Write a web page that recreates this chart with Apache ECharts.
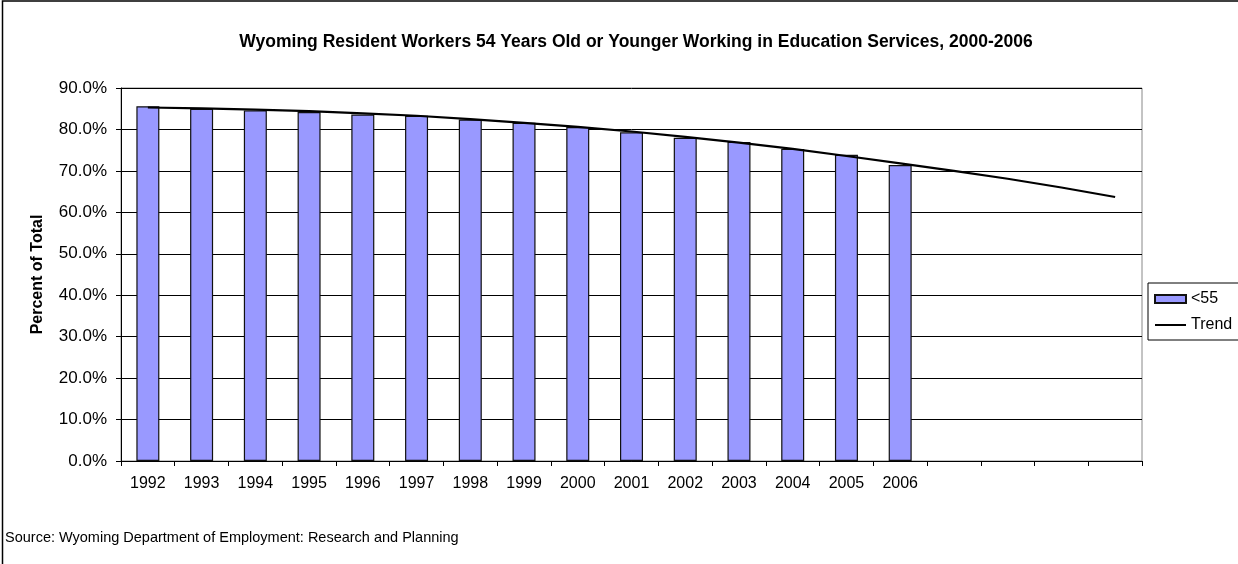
<!DOCTYPE html>
<html>
<head>
<meta charset="utf-8">
<script src="https://cdn.jsdelivr.net/npm/echarts@6/dist/echarts.min.js"></script>
<style>
html,body{margin:0;padding:0;background:#fff;}
#chart{width:1238px;height:564px;}
</style>
</head>
<body>
<div id="chart"></div>
<script>
var categories = ['1992','1993','1994','1995','1996','1997','1998','1999','2000','2001','2002','2003','2004','2005','2006','','','',''];
var under55 = [85.6, 85.0, 84.6, 84.2, 83.6, 83.3, 82.4, 81.6, 80.6, 79.3, 78.0, 77.0, 75.3, 73.9, 71.4, null, null, null, null];
var trend = [85.3, 85.1, 84.8, 84.4, 83.9, 83.3, 82.5, 81.6, 80.6, 79.5, 78.2, 76.8, 75.3, 73.6, 71.8, 70.0, 68.1, 66.0, 63.7];
var titleText = 'Wyoming Resident Workers 54 Years Old or Younger Working in Education Services, 2000-2006';
var sourceText = 'Source: Wyoming Department of Employment: Research and Planning';

var font = 'Liberation Sans, Arial, sans-serif';
var chart = echarts.init(document.getElementById('chart'));
chart.setOption({
  animation: false,
  backgroundColor: '#fff',
  textStyle: {fontFamily: font},
  title: {
    text: titleText,
    left: 631, top: 28, textAlign: 'center',
    textStyle: {fontFamily: font, fontSize: 17.5, fontWeight: 'bold', color: '#000'}
  },
  graphic: [
    {type: 'rect', shape: {x: 2.5, y: 1, width: 1400, height: 1000}, style: {fill: 'none', stroke: '#000', lineWidth: 1.5}, silent: true},
    {type: 'text', left: 5, top: 530, style: {text: sourceText, font: '14.5px ' + font, fill: '#000'}}
  ],
  legend: {
    orient: 'vertical',
    left: 1148, top: 283,
    padding: [8, 60, 7, 6],
    itemGap: 10,
    itemWidth: 31, itemHeight: 8,
    borderColor: '#000', borderWidth: 1,
    textStyle: {fontFamily: font, fontSize: 16, color: '#000'},
    data: [{name: '<55', icon: 'rect'}, {name: 'Trend', itemStyle: {opacity: 0}}]
  },
  grid: {left: 121, right: 96, top: 88, bottom: 103, show: true, borderColor: '#888', borderWidth: 1, containLabel: false},
  xAxis: {
    type: 'category',
    data: categories,
    boundaryGap: true,
    axisLine: {lineStyle: {color: '#000', width: 1}},
    axisTick: {show: true, length: 5, inside: false, lineStyle: {color: '#000'}},
    axisLabel: {fontFamily: font, fontSize: 16, color: '#000', margin: 15, interval: 0},
    splitLine: {show: false}
  },
  yAxis: {
    type: 'value',
    min: 0, max: 90, interval: 10,
    name: 'Percent of Total',
    nameLocation: 'middle',
    nameGap: 75,
    nameTextStyle: {fontFamily: font, fontSize: 16, fontWeight: 'bold', color: '#000'},
    axisLine: {show: true, lineStyle: {color: '#000', width: 1}},
    axisTick: {show: true, length: 5, lineStyle: {color: '#000'}},
    axisLabel: {fontFamily: font, fontSize: 17, color: '#000', margin: 14, formatter: function(v){return v.toFixed(1) + '%';}},
    splitLine: {show: true, lineStyle: {color: '#000', width: 1}}
  },
  series: [
    {
      name: '<55', type: 'bar', data: under55,
      barWidth: 23,
      itemStyle: {color: '#9999FF', borderColor: '#111', borderWidth: 1.2}
    },
    {
      name: 'Trend', type: 'line', data: trend,
      symbol: 'none', showSymbol: false,
      lineStyle: {color: '#000', width: 2.2},
      itemStyle: {color: '#000'},
      z: 5
    }
  ]
});
</script>
</body>
</html>
